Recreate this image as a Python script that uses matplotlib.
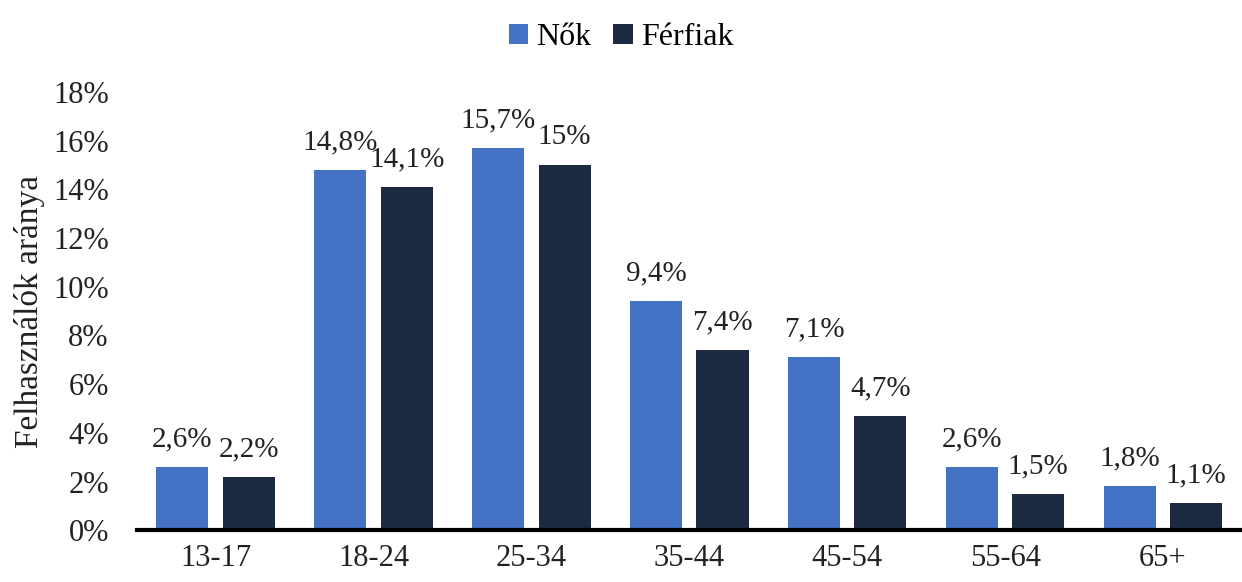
import numpy as np
import matplotlib.pyplot as plt

plt.rcParams['font.family'] = ['Liberation Serif', 'DejaVu Serif']

categories = ['13-17', '18-24', '25-34', '35-44', '45-54', '55-64', '65+']
nok = [2.6, 14.8, 15.7, 9.4, 7.1, 2.6, 1.8]
ferfiak = [2.2, 14.1, 15.0, 7.4, 4.7, 1.5, 1.1]
nok_labels = ['2,6%', '14,8%', '15,7%', '9,4%', '7,1%', '2,6%', '1,8%']
ferfiak_labels = ['2,2%', '14,1%', '15%', '7,4%', '4,7%', '1,5%', '1,1%']

blue = '#4472C4'
navy = '#1B2A40'
txt = '#222222'

fig = plt.figure(figsize=(12.42, 5.82), dpi=100)
ax = fig.add_axes([0.110, 0.089, 0.890, 0.753])

x = np.arange(len(categories))
w = 0.33
off = 0.21
b1 = ax.bar(x - off, nok, w, color=blue, label='Nők')
b2 = ax.bar(x + off, ferfiak, w, color=navy, label='Férfiak')

for xi, v, t in zip(x - off, nok, nok_labels):
    ax.text(xi, v + 0.6, t, ha='center', va='bottom', fontsize=21, color=txt)
for xi, v, t in zip(x + off, ferfiak, ferfiak_labels):
    ax.text(xi, v + 0.6, t, ha='center', va='bottom', fontsize=21, color=txt)

ax.set_xlim(-0.5, len(categories) - 0.5)
ax.set_ylim(0, 18)
ax.set_yticks(np.arange(0, 19, 2))
ax.set_yticklabels([f'{v}%' for v in range(0, 19, 2)])
ax.set_xticks(x)
ax.set_xticklabels(categories)
ax.tick_params(axis='both', length=0, labelsize=22, colors=txt)
ax.tick_params(axis='x', pad=10)
ax.tick_params(axis='y', pad=20)

for s in ['top', 'right', 'left']:
    ax.spines[s].set_visible(False)
ax.spines['bottom'].set_linewidth(3)
ax.spines['bottom'].set_color('black')

ax.set_ylabel('Felhasználók aránya', fontsize=24, color=txt, labelpad=6)

fig.legend(handles=[b1, b2], loc='upper center', bbox_to_anchor=(0.5, 1.01),
           ncol=2, frameon=False, fontsize=23, handlelength=0.6, handleheight=0.6,
           handletextpad=0.25, columnspacing=0.7)

plt.savefig('out.png', dpi=100)
